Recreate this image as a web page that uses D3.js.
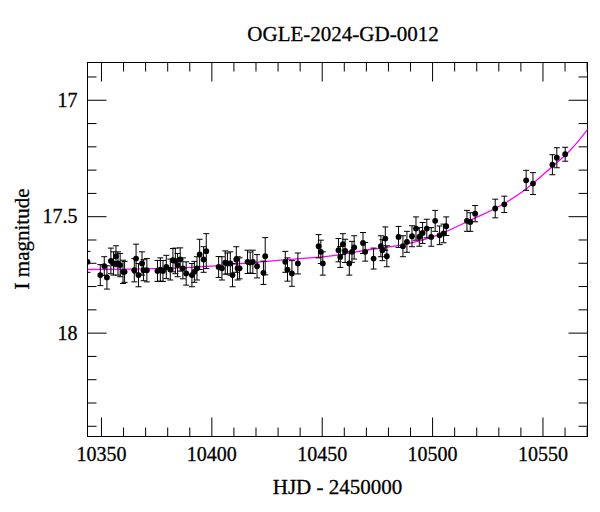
<!DOCTYPE html>
<html>
<head>
<meta charset="utf-8">
<script src="https://cdn.jsdelivr.net/npm/d3@7"></script>
<style>
  body { margin: 0; background: #fff; }
  text { font-family: 'Liberation Serif', 'Times New Roman', serif; fill: #000; stroke: #000; stroke-width: 0.3; }
</style>
</head>
<body>
<div id="chart"></div>
<script>
// photometry: HJD - 2450000, I magnitude, error
var hjd = [
  10343.9, 10349.7, 10351.5, 10352.7, 10354.5, 10355.7, 10356.8, 10357.7, 10358.7, 10360.0,
  10360.7, 10365.1, 10365.9, 10367.0, 10368.6, 10369.3, 10370.8, 10375.6, 10376.9, 10378.1,
  10379.6, 10381.4, 10382.6, 10383.7, 10384.7, 10385.9, 10387.1, 10388.6, 10391.2, 10392.3,
  10393.5, 10394.7, 10396.5, 10397.7, 10403.3, 10404.8, 10406.3, 10407.3, 10408.6, 10409.6,
  10411.3, 10411.9, 10412.8, 10416.4, 10417.6, 10418.8, 10420.7, 10423.6, 10424.4, 10433.5,
  10434.5, 10436.5, 10439.2, 10448.6, 10449.6, 10450.5, 10457.6, 10458.4, 10459.6, 10460.6,
  10462.5, 10463.7, 10464.7, 10468.7, 10469.7, 10473.5, 10476.8, 10477.5, 10478.8, 10479.5,
  10484.8, 10486.8, 10488.6, 10490.9, 10492.7, 10494.2, 10495.7, 10497.6, 10499.6, 10501.4,
  10503.4, 10505.2, 10506.4, 10515.8, 10517.3, 10519.5, 10528.6, 10532.7, 10542.6, 10545.7,
  10554.5, 10556.5, 10560.3
]
var mag = [
  17.696, 17.753, 17.714, 17.763, 17.692, 17.703, 17.672, 17.703, 17.710, 17.739,
  17.739, 17.732, 17.682, 17.753, 17.703, 17.732, 17.732, 17.735, 17.729, 17.735,
  17.718, 17.729, 17.689, 17.692, 17.710, 17.686, 17.724, 17.746, 17.753, 17.739,
  17.724, 17.664, 17.686, 17.650, 17.718, 17.724, 17.699, 17.703, 17.703, 17.753,
  17.686, 17.724, 17.724, 17.696, 17.699, 17.696, 17.715, 17.743, 17.672, 17.696,
  17.729, 17.746, 17.703, 17.629, 17.653, 17.703, 17.646, 17.675, 17.620, 17.649,
  17.703, 17.653, 17.634, 17.615, 17.653, 17.682, 17.629, 17.646, 17.596, 17.672,
  17.589, 17.629, 17.610, 17.586, 17.553, 17.589, 17.572, 17.553, 17.589, 17.520,
  17.582, 17.574, 17.543, 17.520, 17.525, 17.489, 17.467, 17.449, 17.346, 17.360,
  17.279, 17.249, 17.234
]
var magErr = [
  0.045, 0.045, 0.040, 0.050, 0.055, 0.050, 0.045, 0.050, 0.050, 0.050,
  0.045, 0.050, 0.062, 0.050, 0.050, 0.045, 0.050, 0.045, 0.050, 0.045,
  0.050, 0.045, 0.050, 0.055, 0.050, 0.050, 0.045, 0.050, 0.050, 0.045,
  0.050, 0.065, 0.055, 0.075, 0.045, 0.050, 0.050, 0.045, 0.050, 0.050,
  0.055, 0.050, 0.045, 0.050, 0.045, 0.050, 0.050, 0.050, 0.080, 0.045,
  0.050, 0.055, 0.045, 0.050, 0.050, 0.050, 0.050, 0.045, 0.045, 0.050,
  0.050, 0.045, 0.050, 0.045, 0.040, 0.045, 0.045, 0.045, 0.050, 0.045,
  0.045, 0.045, 0.045, 0.045, 0.050, 0.040, 0.045, 0.040, 0.040, 0.045,
  0.040, 0.040, 0.040, 0.045, 0.040, 0.035, 0.040, 0.035, 0.043, 0.047,
  0.043, 0.043, 0.030
]
// model curve
var modelHjd = [10342.9, 10385.9, 10431.2, 10456.9, 10472.0, 10486.9, 10502.2, 10517.3, 10533.9, 10542.9, 10555.0, 10562.6, 10571.6]
var modelMag = [17.729, 17.722, 17.689, 17.667, 17.643, 17.622, 17.582, 17.517, 17.439, 17.381, 17.282, 17.217, 17.114]

var xMajor = [10350, 10400, 10450, 10500, 10550]
var yMajor = [17, 17.5, 18]

var width = 600
var height = 512
var frame = { left: 87.5, right: 587.5, top: 62.5, bottom: 436.5 }

var svg = d3.select('#chart')
  .append('svg')
  .attr('width', width)
  .attr('height', height)

var xPositionScale = d3.scaleLinear()
  .domain([10343.9, 10570.4])
  .range([frame.left, frame.right])
var yPositionScale = d3.scaleLinear()
  .domain([16.84, 18.446])
  .range([frame.top, frame.bottom])

var xMinor = d3.range(10350, 10571, 10).filter(d => xMajor.indexOf(d) < 0)
var yMinor = d3.range(16.9, 18.45, 0.1).map(d => +d.toFixed(1)).filter(d => yMajor.indexOf(d) < 0)

svg.append('clipPath')
  .attr('id', 'clip')
  .append('rect')
  .attr('x', frame.left)
  .attr('y', frame.top)
  .attr('width', frame.right - frame.left)
  .attr('height', frame.bottom - frame.top)

// axes on all four sides, ticks pointing inward
function drawAxis(axis, tx, ty, labels) {
  var g = svg.append('g')
    .attr('class', 'axis')
    .attr('transform', 'translate(' + tx + ',' + ty + ')')
    .call(axis)
  g.select('.domain').remove()
  g.selectAll('line').attr('stroke', '#000')
  if (!labels) g.selectAll('text').remove()
  return g
}

var bottomG = drawAxis(d3.axisBottom(xPositionScale).tickValues(xMajor).tickFormat(d3.format('d')).tickSize(-19).tickPadding(10), 0, frame.bottom, true)
drawAxis(d3.axisBottom(xPositionScale).tickValues(xMinor).tickSize(-9), 0, frame.bottom, false)
drawAxis(d3.axisTop(xPositionScale).tickValues(xMajor).tickSize(-19), 0, frame.top, false)
drawAxis(d3.axisTop(xPositionScale).tickValues(xMinor).tickSize(-9), 0, frame.top, false)

var leftG = drawAxis(d3.axisLeft(yPositionScale).tickValues(yMajor).tickFormat(d => d).tickSize(-19).tickPadding(10), frame.left, 0, true)
drawAxis(d3.axisLeft(yPositionScale).tickValues(yMinor).tickSize(-9), frame.left, 0, false)
drawAxis(d3.axisRight(yPositionScale).tickValues(yMajor).tickSize(-19), frame.right, 0, false)
drawAxis(d3.axisRight(yPositionScale).tickValues(yMinor).tickSize(-9), frame.right, 0, false)

bottomG.selectAll('text').attr('font-size', 20).attr('font-family', 'Liberation Serif')
leftG.selectAll('text').attr('font-size', 20).attr('font-family', 'Liberation Serif')

// frame
svg.append('rect')
  .attr('x', frame.left)
  .attr('y', frame.top)
  .attr('width', frame.right - frame.left)
  .attr('height', frame.bottom - frame.top)
  .attr('fill', 'none')
  .attr('stroke', '#000')
  .attr('stroke-width', 1)

var plot = svg.append('g').attr('clip-path', 'url(#clip)')

// model line
var model = modelHjd.map((d, i) => ({ t: d, m: modelMag[i] }))
var line = d3.line()
  .x(d => xPositionScale(d.t))
  .y(d => yPositionScale(d.m))
  .curve(d3.curveMonotoneX)

plot.append('path')
  .datum(model)
  .attr('d', line)
  .attr('fill', 'none')
  .attr('stroke', '#ff00ff')
  .attr('stroke-width', 1.3)

// data with error bars
var points = hjd.map((d, i) => ({ t: d, m: mag[i], e: magErr[i] }))
var cap = 3

var bars = plot.selectAll('.err')
  .data(points)
  .enter()
  .append('g')
  .attr('class', 'err')
  .attr('stroke', '#000')
  .attr('stroke-width', 1)

bars.append('line')
  .attr('x1', d => xPositionScale(d.t))
  .attr('x2', d => xPositionScale(d.t))
  .attr('y1', d => yPositionScale(d.m - d.e))
  .attr('y2', d => yPositionScale(d.m + d.e))
bars.append('line')
  .attr('x1', d => xPositionScale(d.t) - cap)
  .attr('x2', d => xPositionScale(d.t) + cap)
  .attr('y1', d => yPositionScale(d.m - d.e))
  .attr('y2', d => yPositionScale(d.m - d.e))
bars.append('line')
  .attr('x1', d => xPositionScale(d.t) - cap)
  .attr('x2', d => xPositionScale(d.t) + cap)
  .attr('y1', d => yPositionScale(d.m + d.e))
  .attr('y2', d => yPositionScale(d.m + d.e))

plot.selectAll('.pt')
  .data(points)
  .enter()
  .append('circle')
  .attr('class', 'pt')
  .attr('cx', d => xPositionScale(d.t))
  .attr('cy', d => yPositionScale(d.m))
  .attr('r', 2.9)
  .attr('fill', '#000')

// titles
svg.append('text')
  .text('OGLE-2024-GD-0012')
  .attr('x', 343)
  .attr('y', 41)
  .attr('font-size', 21)
  .attr('text-anchor', 'middle')

svg.append('text')
  .text('HJD - 2450000')
  .attr('x', (frame.left + frame.right) / 2)
  .attr('y', 494)
  .attr('font-size', 21)
  .attr('text-anchor', 'middle')

svg.append('text')
  .text('I magnitude')
  .attr('transform', 'translate(29,239) rotate(-90)')
  .attr('font-size', 21)
  .attr('text-anchor', 'middle')
</script>
</body>
</html>
